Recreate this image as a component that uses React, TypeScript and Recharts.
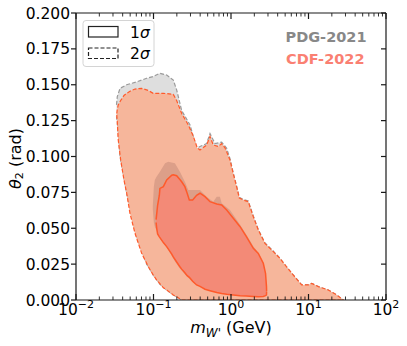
import { ComposedChart, Area, XAxis, YAxis, ReferenceLine } from "recharts";

// contour boundaries: [m_W' (GeV), theta2 low, theta2 high]
const pdg2sigma = [
  [0.0333, 0.128, 0.136], [0.0341, 0.124, 0.1417], [0.037, 0.1, 0.1475], [0.0451, 0.0744, 0.15],
  [0.0607, 0.044, 0.152], [0.0817, 0.025, 0.1545], [0.099, 0.0175, 0.1557], [0.121, 0.011, 0.158],
  [0.148, 0.007, 0.1568], [0.18, 0.0035, 0.1533], [0.199, 0.0023, 0.1464], [0.231, 0, 0.132],
  [0.296, 0, 0.122], [0.36, 0, 0.1057], [0.398, 0, 0.107], [0.485, 0, 0.109], [0.536, 0, 0.116],
  [0.622, 0, 0.109], [0.758, 0, 0.11], [0.88, 0, 0.1057], [0.97, 0, 0.0985], [1.07, 0, 0.0885],
  [1.18, 0, 0.0795], [1.28, 0, 0.0715], [1.44, 0, 0.07], [1.67, 0, 0.069], [1.94, 0, 0.0585],
  [2.25, 0, 0.049], [2.74, 0, 0.0398], [3.52, 0, 0.034], [4.29, 0, 0.029], [5.23, 0, 0.023],
  [6.37, 0, 0.0174], [8.16, 0, 0.0105], [9.96, 0, 0.0105], [11.0, 0, 0.0116], [13.4, 0, 0.0093],
  [18.0, 0, 0.007], [23.1, 0, 0.0035], [28.2, 0, 0],
];

const cdf2sigma = [
  [0.0336, 0.129, 0.13], [0.0341, 0.124, 0.133], [0.0351, 0.1115, 0.136], [0.0377, 0.0976, 0.139],
  [0.0416, 0.0836, 0.1425], [0.0451, 0.0744, 0.144], [0.0497, 0.0604, 0.1455], [0.0577, 0.0465, 0.147],
  [0.0704, 0.0325, 0.1475], [0.0858, 0.0232, 0.146], [0.099, 0.0175, 0.144], [0.11, 0.0139, 0.144],
  [0.134, 0.0085, 0.144], [0.148, 0.007, 0.1438], [0.18, 0.0035, 0.1433], [0.199, 0.0023, 0.139],
  [0.231, 0, 0.13], [0.281, 0, 0.122], [0.327, 0, 0.114], [0.367, 0, 0.106], [0.398, 0, 0.1045],
  [0.485, 0, 0.108], [0.536, 0, 0.114], [0.591, 0, 0.108], [0.686, 0, 0.107], [0.758, 0, 0.109],
  [0.837, 0, 0.106], [0.97, 0, 0.0976], [1.07, 0, 0.088], [1.18, 0, 0.079], [1.28, 0, 0.071],
  [1.44, 0, 0.0697], [1.67, 0, 0.0685], [1.94, 0, 0.058], [2.25, 0, 0.0488], [2.74, 0, 0.0395],
  [3.52, 0, 0.0337], [4.29, 0, 0.029], [5.23, 0, 0.023], [6.37, 0, 0.0174], [8.16, 0, 0.0105],
  [9.96, 0, 0.0105], [11.0, 0, 0.0116], [13.4, 0, 0.0093], [18.0, 0, 0.007], [23.1, 0, 0.0035],
  [28.2, 0, 0],
];

const pdg1sigma = [
  [0.098, 0.063, 0.066], [0.099, 0.06, 0.07], [0.101, 0.054, 0.079], [0.104, 0.051, 0.0836],
  [0.11, 0.048, 0.086], [0.121, 0.043, 0.0894], [0.141, 0.038, 0.0953], [0.155, 0.035, 0.0964],
  [0.189, 0.027, 0.0953], [0.219, 0.022, 0.0894], [0.254, 0.018, 0.0824], [0.281, 0.0155, 0.0767],
  [0.327, 0.012, 0.0767], [0.398, 0.0093, 0.0767], [0.485, 0.0073, 0.072], [0.59, 0.006, 0.0685],
  [0.655, 0.0055, 0.072], [0.72, 0.005, 0.072], [0.758, 0.0048, 0.0674], [0.97, 0.0038, 0.0627],
  [1.31, 0.003, 0.0525], [1.58, 0.0028, 0.0455], [1.94, 0.0025, 0.0375], [2.25, 0.0023, 0.033],
  [2.61, 0.0025, 0.026], [2.8, 0.003, 0.018], [2.86, 0.0035, 0.009], [2.87, 0.006, 0.0062],
];

const cdf1sigma = [
  [0.108, 0.054, 0.056], [0.11, 0.05, 0.06], [0.113, 0.046, 0.066], [0.119, 0.044, 0.073],
  [0.121, 0.0435, 0.0778], [0.134, 0.04, 0.079], [0.148, 0.0372, 0.0836], [0.172, 0.032, 0.087],
  [0.18, 0.03, 0.0872], [0.199, 0.0265, 0.0866], [0.219, 0.0232, 0.084], [0.231, 0.0215, 0.0824],
  [0.254, 0.019, 0.079], [0.272, 0.017, 0.0744], [0.29, 0.0158, 0.0697], [0.32, 0.013, 0.0697],
  [0.36, 0.0105, 0.073], [0.398, 0.0095, 0.0744], [0.462, 0.0075, 0.072], [0.536, 0.0065, 0.0685],
  [0.655, 0.0052, 0.0669], [0.758, 0.0045, 0.0662], [0.88, 0.004, 0.0627], [1.07, 0.0035, 0.057],
  [1.31, 0.003, 0.0511], [1.58, 0.0028, 0.0441], [1.94, 0.0025, 0.036], [2.25, 0.0023, 0.0325],
  [2.61, 0.0025, 0.0256], [2.79, 0.003, 0.0186], [2.87, 0.0035, 0.0093], [2.88, 0.006, 0.0062],
];

const xMajor = [0.01, 0.1, 1, 10, 100];
const xMinor = [-2, -1, 0, 1].flatMap((e) => [2, 3, 4, 5, 6, 7, 8, 9].map((m) => m * Math.pow(10, e)));
const yTicks = [0, 0.025, 0.05, 0.075, 0.1, 0.125, 0.15, 0.175, 0.2];

const toRows = (pts: number[][]) => pts.map(([m, lo, hi]) => ({ m, band: [lo, hi] }));

// layout
const W = 407;
const H = 346;
const MARGIN = { top: 13, right: 21, bottom: 0, left: 0 };
const Y_AXIS_W = 76;
const X_AXIS_H = 46;
const PLOT_W = W - MARGIN.left - MARGIN.right - Y_AXIS_W;
const PLOT_H = H - MARGIN.top - MARGIN.bottom - X_AXIS_H;

const FONT = "DejaVu Sans, sans-serif";
const AX = "#1a1a1a";
const EDGE = "#ff5a2b";

// x ticks: inward marks on bottom and top, labels for the decades only
const XTick = ({ x, y, payload }: any) => {
  const v = payload.value;
  const e = Math.round(Math.log10(v));
  const major = Math.abs(Math.log10(v) - e) < 1e-6;
  const len = major ? 6 : 3.5;
  const top = y - PLOT_H;
  return (
    <g>
      <line x1={x} x2={x} y1={y} y2={y - len} stroke={AX} strokeWidth={major ? 1.2 : 0.9} />
      <line x1={x} x2={x} y1={top} y2={top + len} stroke={AX} strokeWidth={major ? 1.2 : 0.9} />
      {major && (
        <text x={x} y={y + 15} textAnchor="middle" fontFamily={FONT} fontSize={15.5} fill="#000">
          10<tspan dy={-7} fontSize={11}>{e < 0 ? `\u2212${-e}` : e}</tspan>
        </text>
      )}
    </g>
  );
};

// y ticks: label on the left, inward mark on the right frame
const YTick = ({ x, y, payload }: any) => {
  const right = x + 6 + PLOT_W;
  return (
    <g>
      <text x={x} y={y} dy="0.36em" textAnchor="end" fontFamily={FONT} fontSize={15.5} fill="#000">
        {payload.value.toFixed(3)}
      </text>
      <line x1={right} x2={right - 5} y1={y} y2={y} stroke={AX} strokeWidth={1.2} />
    </g>
  );
};

const xDomain: [number, number] = [0.01, 100];
const yDomain: [number, number] = [0, 0.2];

export default function App() {
  return (
    <div style={{ position: "absolute", left: 0, top: 0, width: W, height: H, background: "#fff" }}>
      <ComposedChart width={W} height={H} margin={MARGIN}>
        <Area data={toRows(pdg2sigma)} dataKey="band" type="linear" fill="#dedede" fillOpacity={1}
          stroke="#9a9a9a" strokeWidth={1.2} strokeDasharray="4 2" dot={false} activeDot={false} isAnimationActive={false} />
        <Area data={toRows(cdf2sigma)} dataKey="band" type="linear" fill="#f6b69b" fillOpacity={1}
          stroke={EDGE} strokeWidth={1.2} strokeDasharray="4 2" dot={false} activeDot={false} isAnimationActive={false} />
        <Area data={toRows(pdg1sigma)} dataKey="band" type="linear" fill="#dc9f89" fillOpacity={1}
          stroke="none" dot={false} activeDot={false} isAnimationActive={false} />
        <Area data={toRows(cdf1sigma)} dataKey="band" type="linear" fill="#f38a77" fillOpacity={1}
          stroke={EDGE} strokeWidth={1.5} dot={false} activeDot={false} isAnimationActive={false} />

        <ReferenceLine y={0.2} stroke={AX} strokeWidth={1.2} ifOverflow="visible" />
        <ReferenceLine x={100} stroke={AX} strokeWidth={1.2} ifOverflow="visible" />

        <XAxis dataKey="m" type="number" scale="log" domain={xDomain} ticks={[...xMajor, ...xMinor]} allowDataOverflow
          interval={0} orientation="bottom" height={X_AXIS_H} tickSize={0} tickMargin={0} tickLine={false}
          stroke={AX} strokeWidth={1.2} tick={XTick}
          label={{
            content: ({ viewBox }: any) => (
              <text x={viewBox.x + viewBox.width / 2} y={viewBox.y + 33} textAnchor="middle" fontFamily={FONT} fontSize={16} fill="#000">
                <tspan fontStyle="italic">m</tspan>
                <tspan fontStyle="italic" fontSize={12} dy={4}>W'</tspan>
                <tspan dy={-4}> (GeV)</tspan>
              </text>
            ),
          }}
        />
        <YAxis type="number" domain={yDomain} ticks={yTicks} allowDataOverflow width={Y_AXIS_W} tickSize={5} tickMargin={1}
          interval={0} stroke={AX} strokeWidth={1.2} tick={YTick}
          label={{
            content: ({ viewBox }: any) => {
              const cx = 15;
              const cy = viewBox.y + viewBox.height / 2 + 2;
              return (
                <text x={cx} y={cy} transform={`rotate(-90 ${cx} ${cy})`} textAnchor="middle" dominantBaseline="central"
                  fontFamily={FONT} fontSize={16} fill="#000">
                  <tspan fontStyle="italic">{"\u03b8"}</tspan>
                  <tspan fontSize={11} dy={4}>2</tspan>
                  <tspan dy={-4}> (rad)</tspan>
                </text>
              );
            },
          }}
        />
      </ComposedChart>

      <svg width={W} height={H} style={{ position: "absolute", left: 0, top: 0, pointerEvents: "none" }}>
        <rect x={83} y={20.5} width={71} height={46} rx={3} fill="#fff" fillOpacity={0.85} stroke="#d4d4d4" strokeWidth={1} />
        <rect x={88.5} y={26.5} width={29.5} height={10.5} fill="none" stroke="#222" strokeWidth={1.2} />
        <rect x={88.5} y={48} width={29.5} height={10.5} fill="none" stroke="#222" strokeWidth={1.2} strokeDasharray="4 2" />
        <text x={130} y={37.5} fontFamily={FONT} fontSize={15.5} fill="#000">
          1<tspan fontStyle="italic">{"\u03c3"}</tspan>
        </text>
        <text x={130} y={59} fontFamily={FONT} fontSize={15.5} fill="#000">
          2<tspan fontStyle="italic">{"\u03c3"}</tspan>
        </text>
        <text x={366.5} y={41.5} textAnchor="end" fontFamily={FONT} fontWeight="bold" fontSize={14.5} fill="#888888">
          PDG-2021
        </text>
        <text x={364.5} y={63.5} textAnchor="end" fontFamily={FONT} fontWeight="bold" fontSize={14.5} fill="#fa8072">
          CDF-2022
        </text>
      </svg>
    </div>
  );
}
